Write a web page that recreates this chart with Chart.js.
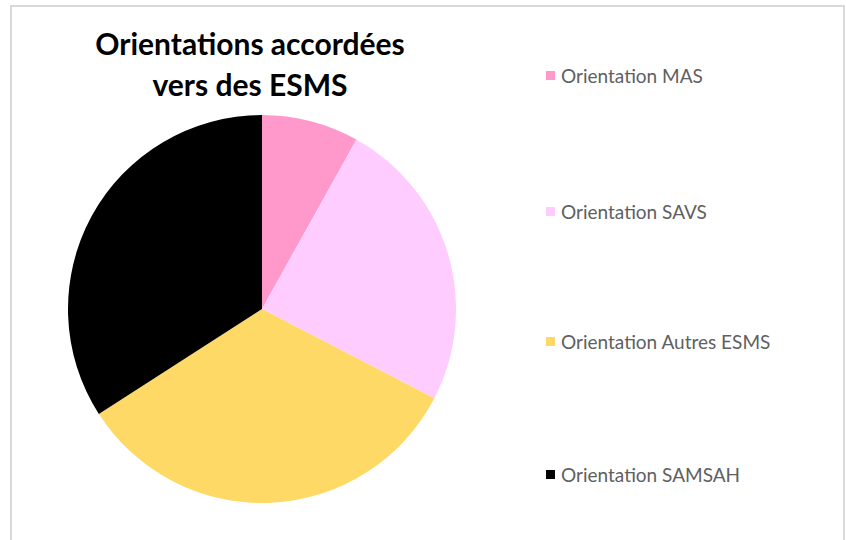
<!DOCTYPE html>
<html>
<head>
<meta charset="utf-8">
<script src="https://cdn.jsdelivr.net/npm/chart.js@4.4.1/dist/chart.umd.min.js"></script>
<style>
  html, body { margin: 0; padding: 0; background: #fff; }
  body { width: 846px; height: 540px; position: relative; overflow: hidden; font-family: Lato, "Open Sans", sans-serif; }
  #frame { position: absolute; left: 10px; top: 5px; width: 835px; height: 560px; border: 2px solid #d9d9d9; box-sizing: border-box; }
  #title { position: absolute; left: 50px; width: 400px; top: 23px; text-align: center; font-weight: bold; font-size: 30px; line-height: 41px; color: #000; }
  #pieBox { position: absolute; left: 68px; top: 115px; width: 388px; height: 388px; }
  #legend { position: absolute; left: 546px; top: 0; }
  .item { position: absolute; left: 0; white-space: nowrap; font-size: 19px; color: #606060; display: flex; align-items: center; }
  .item span.box { display: inline-block; width: 9px; height: 9px; margin-right: 6px; }
</style>
</head>
<body>
<div id="frame"></div>
<div id="title">Orientations accordées<br>vers des ESMS</div>
<div id="pieBox"><canvas id="pie"></canvas></div>
<div id="legend"></div>
<script>
var labels = ['Orientation MAS', 'Orientation SAVS', 'Orientation Autres ESMS', 'Orientation SAMSAH'];
var values = [8.1, 24.5, 33.3, 34.1];
var colors = ['#FF99CC', '#FFCCFF', '#FFD966', '#000000'];
var legendRows = [75, 211, 341, 474];

var pieChart = new Chart(document.getElementById('pie'), {
    type: 'pie',
    data: {
        labels: labels,
        datasets: [{
            data: values,
            backgroundColor: colors,
            borderWidth: 0
        }]
    },
    options: {
        responsive: true,
        maintainAspectRatio: false,
        animation: false,
        layout: { padding: 0 },
        plugins: {
            legend: { display: false },
            tooltip: { enabled: false }
        }
    }
});

// legend on the right, built from the chart's own labels
var legendEl = document.getElementById('legend');
var items = Chart.overrides.pie.plugins.legend.labels.generateLabels(pieChart);
items.forEach(function(it, i) {
    var row = document.createElement('div');
    row.className = 'item';
    row.style.top = (legendRows[i] - 12) + 'px';
    row.style.height = '24px';
    var box = document.createElement('span');
    box.className = 'box';
    box.style.background = it.fillStyle;
    row.appendChild(box);
    row.appendChild(document.createTextNode(it.text));
    legendEl.appendChild(row);
});
</script>
</body>
</html>
